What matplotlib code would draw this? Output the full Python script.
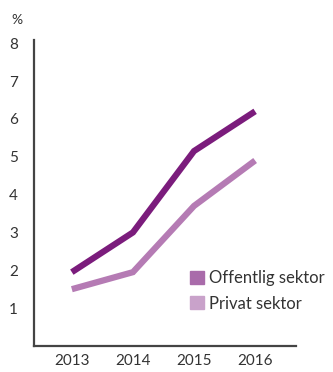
import matplotlib
matplotlib.use('Agg')
import matplotlib.pyplot as plt
from matplotlib.patches import Patch

years = [2013, 2014, 2015, 2016]
offentlig = [1.95, 3.0, 5.15, 6.2]
privat = [1.5, 1.95, 3.7, 4.9]
y_ticks = [1, 2, 3, 4, 5, 6, 7, 8]

dark = '#7B1C7C'
light = '#B57BB4'

plt.rcParams['font.family'] = ['Lato', 'DejaVu Sans']

fig = plt.figure(figsize=(3.33, 3.72), dpi=100)
ax = fig.add_axes([0.102, 0.070, 0.787, 0.822])

ax.plot(years, offentlig, color=dark, lw=4.5, solid_capstyle='butt', solid_joinstyle='miter')
ax.plot(years, privat, color=light, lw=4.5, solid_capstyle='butt', solid_joinstyle='miter')

ax.set_xlim(2012.38, 2016.67)
ax.set_ylim(0, 8.08)
ax.set_xticks(years)
ax.set_xticklabels([str(y) for y in years])
ax.set_yticks(y_ticks)
ax.set_yticklabels([str(t) for t in y_ticks], ha='left')

for side in ['top', 'right']:
    ax.spines[side].set_visible(False)
for side in ['left', 'bottom']:
    ax.spines[side].set_color('#444444')
    ax.spines[side].set_linewidth(1.6)

ax.tick_params(axis='both', length=0, labelsize=11, colors='#333333')
ax.tick_params(axis='x', pad=6)
ax.tick_params(axis='y', pad=18)

fig.text(0.033, 0.945, '%', fontsize=10, color='#333333', va='center')

handles = [Patch(color='#A96BAA', label='Offentlig sektor'),
           Patch(color='#C9A2CA', label='Privat sektor')]
ax.legend(handles=handles, loc='lower left', bbox_to_anchor=(0.565, 0.085),
          frameon=False, fontsize=12, handlelength=0.8, handleheight=0.8,
          handletextpad=0.3, labelspacing=0.55, borderpad=0, labelcolor='#333333')

fig.savefig('out.png', dpi=100)
